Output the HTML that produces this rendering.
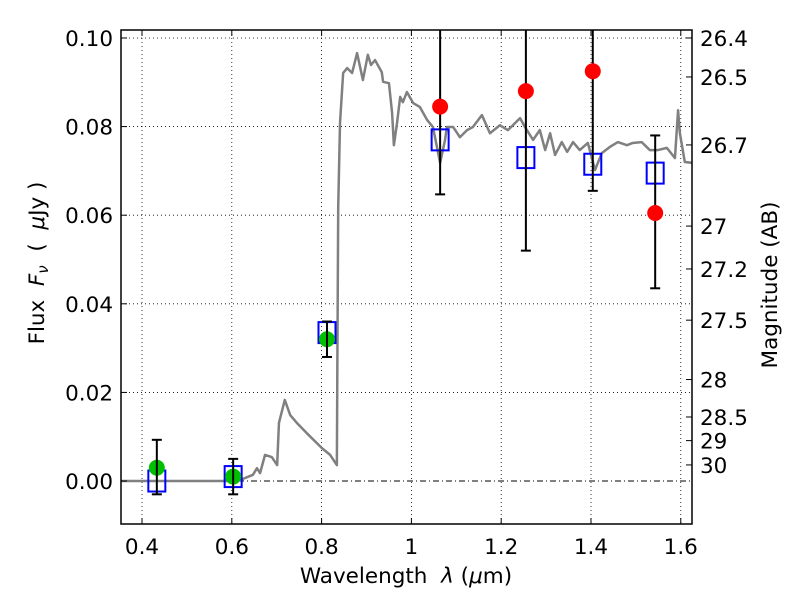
<!DOCTYPE html>
<html><head><meta charset="utf-8"><style>
body{margin:0;background:#fff}
svg text{font-family:"DejaVu Sans","Liberation Sans",sans-serif;fill:#000}
</style></head><body>
<svg id="chart" width="800" height="600" viewBox="0 0 800 600" xmlns="http://www.w3.org/2000/svg"></svg>
<script>
const specW=[0.353,0.6,0.618,0.647,0.656,0.663,0.674,0.689,0.701,0.705,0.718,0.730,0.745,0.767,0.801,0.819,0.834,0.835,0.837,0.841,0.848,0.857,0.868,0.879,0.892,0.903,0.910,0.919,0.934,0.937,0.950,0.957,0.961,0.968,0.975,0.981,0.990,1.004,1.019,1.035,1.048,1.064,1.075,1.079,1.093,1.108,1.124,1.137,1.157,1.175,1.197,1.215,1.242,1.253,1.271,1.286,1.298,1.309,1.320,1.335,1.347,1.360,1.375,1.393,1.409,1.424,1.442,1.460,1.480,1.493,1.513,1.531,1.549,1.569,1.587,1.594,1.598,1.609,1.627];
const specF=[0,0,0.0002,0.0014,0.0029,0.0018,0.0059,0.0054,0.0036,0.0131,0.0183,0.0149,0.0131,0.0108,0.0074,0.0059,0.0036,0.0244,0.0618,0.0808,0.0921,0.0932,0.0921,0.0966,0.0905,0.0962,0.0939,0.0950,0.0923,0.0901,0.0898,0.0831,0.0758,0.0808,0.0867,0.0855,0.0878,0.0853,0.0844,0.0815,0.0799,0.0718,0.0770,0.0799,0.0799,0.0776,0.0792,0.0799,0.0826,0.0785,0.0803,0.0792,0.0819,0.0799,0.0770,0.0792,0.0747,0.0785,0.0736,0.0765,0.0743,0.0765,0.0747,0.0763,0.0702,0.0740,0.0754,0.0765,0.0758,0.0763,0.0765,0.0747,0.0747,0.0752,0.0729,0.0837,0.0785,0.0720,0.0718];
const greenW=[0.433,0.603,0.812];
const greenF=[0.003,0.001,0.032];
const greenLo=[-0.003,-0.003,0.028];
const greenHi=[0.0093,0.005,0.036];
const blueW=[0.433,0.603,0.812,1.064,1.255,1.404,1.543];
const blueF=[0.0,0.001,0.0335,0.077,0.073,0.0715,0.0695];
const blueLo=[null,null,null,0.0647,0.052,0.0655,0.0435];
const blueHi=[null,null,null,0.11,0.11,0.11,0.078];
const redW=[1.064,1.255,1.404,1.543];
const redF=[0.0845,0.088,0.0925,0.0605];
const xTicks=[0.4,0.6,0.8,1.0,1.2,1.4,1.6];
const xTickLabels=["0.4","0.6","0.8","1","1.2","1.4","1.6"];
const yTicks=[0,0.02,0.04,0.06,0.08,0.10];
const yTickLabels=["0.00","0.02","0.04","0.06","0.08","0.10"];
const magTicks=[26.4,26.5,26.7,27,27.2,27.5,28,28.5,29,30];
const magTickLabels=["26.4","26.5","26.7","27","27.2","27.5","28","28.5","29","30"];

const L=121,R=692,T=30,B=524;
const xmin=0.3532,xmax=1.625,ymin=-0.0097,ymax=0.1018;
const X=w=>L+(w-xmin)/(xmax-xmin)*(R-L);
const Y=f=>B-(f-ymin)/(ymax-ymin)*(B-T);
const svg=document.getElementById('chart');
const NS='http://www.w3.org/2000/svg';
function mk(tag,attrs,parent){const e=document.createElementNS(NS,tag);for(const k in attrs)e.setAttribute(k,attrs[k]);(parent||svg).appendChild(e);return e;}

const clip=mk('clipPath',{id:'pc'});mk('rect',{x:L,y:T,width:R-L,height:B-T},clip);
const plot=mk('g',{'clip-path':'url(#pc)'});



xTicks.forEach(t=>{const g=mk('line',{x1:X(t),x2:X(t),y1:T,y2:B,stroke:'#000','stroke-width':0.8,'stroke-dasharray':'1,3'},plot);

});
yTicks.forEach(t=>{if(t===0)return;const g=mk('line',{x1:L,x2:R,y1:Y(t),y2:Y(t),stroke:'#000','stroke-width':0.8,'stroke-dasharray':'1,3'},plot);

});
const zl=mk('line',{x1:L,x2:R,y1:Y(0),y2:Y(0),stroke:'#000','stroke-width':1,'stroke-dasharray':'6,3,1,3'},plot);



const sp=mk('polyline',{points:specW.map((w,i)=>X(w)+','+Y(specF[i])).join(' '),fill:'none',stroke:'#808080','stroke-width':2.5,'stroke-linejoin':'round'},plot);



function errbar(w,lo,hi,name){const g=mk('g',{},plot);


mk('line',{x1:X(w),x2:X(w),y1:Y(lo),y2:Y(hi),stroke:'#000','stroke-width':2},g);
[lo,hi].forEach(v=>mk('line',{x1:X(w)-5,x2:X(w)+5,y1:Y(v),y2:Y(v),stroke:'#000','stroke-width':2},g));}

blueW.forEach((w,i)=>{const r=mk('rect',{x:X(w)-8.5,y:Y(blueF[i])-10.5,width:17,height:21,fill:'none',stroke:'#0000ff','stroke-width':2},plot);


if(blueLo[i]!==null)errbar(w,blueLo[i],blueHi[i],'observed-error-bar');});
greenW.forEach((w,i)=>{const c=mk('circle',{cx:X(w),cy:Y(greenF[i]),r:8,fill:'#00c000'},plot);


errbar(w,greenLo[i],greenHi[i],'green-error-bar');});
redW.forEach((w,i)=>{const c=mk('circle',{cx:X(w),cy:Y(redF[i]),r:8,fill:'#ff0000'},plot);

});

const fr=mk('rect',{x:L,y:T,width:R-L,height:B-T,fill:'none',stroke:'#000','stroke-width':1.5});



xTicks.forEach((t,i)=>{mk('line',{x1:X(t),x2:X(t),y1:B,y2:B-6,stroke:'#000'});mk('line',{x1:X(t),x2:X(t),y1:T,y2:T+6,stroke:'#000'});
const tx=mk('text',{x:X(t),y:B+30,'text-anchor':'middle','font-size':21.5});tx.textContent=xTickLabels[i];

});
yTicks.forEach((t,i)=>{mk('line',{x1:L,x2:L+6,y1:Y(t),y2:Y(t),stroke:'#000'});
const tx=mk('text',{x:L-8,y:Y(t)+8,'text-anchor':'end','font-size':21.5});tx.textContent=yTickLabels[i];

});
magTicks.forEach((m,i)=>{const f=Math.pow(10,(23.9-m)/2.5);mk('line',{x1:R,x2:R-6,y1:Y(f),y2:Y(f),stroke:'#000'});
const tx=mk('text',{x:R+8,y:Y(f)+8,'text-anchor':'start','font-size':21.5});tx.textContent=magTickLabels[i];

});
</script>
<svg style="position:absolute;left:0;top:0" width="800" height="600">
<text x="406" y="583" text-anchor="middle" font-size="21.5">Wavelength&#160;&#160;<tspan font-style="italic">λ</tspan> (<tspan font-style="italic">μ</tspan>m)</text>
<text transform="translate(44,263) rotate(-90)" text-anchor="middle" font-size="21.5">Flux&#160;&#160;<tspan font-style="italic">F<tspan font-size="15" dy="4">ν</tspan></tspan><tspan dy="-4">&#160;&#160;(&#160;&#160;</tspan><tspan font-style="italic">μ</tspan>Jy )</text>
<text transform="translate(777,285) rotate(-90)" text-anchor="middle" font-size="21.5">Magnitude (AB)</text>
</svg>
</body></html>
